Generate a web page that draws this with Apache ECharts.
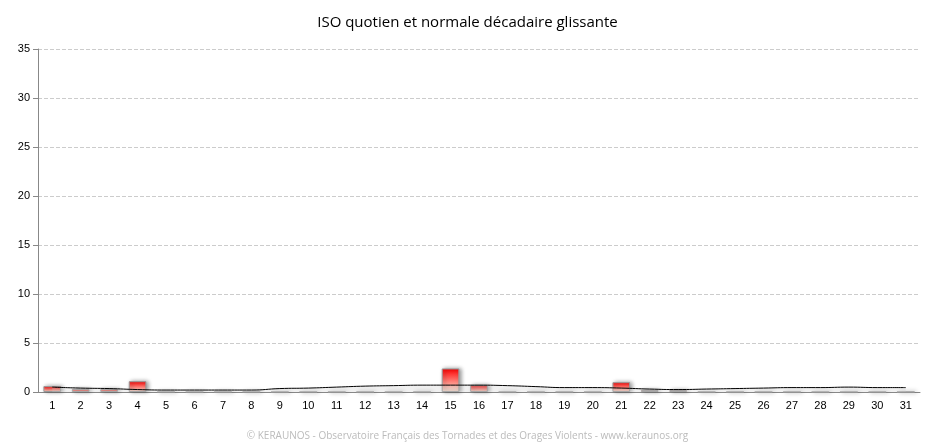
<!DOCTYPE html><html><head><meta charset="utf-8"><script src="https://cdn.jsdelivr.net/npm/echarts@6/dist/echarts.min.js"></script></head><body style="margin:0"><div id="c" style="width:935px;height:448px"></div><script>
const days=Array.from({length:31},(_,i)=>String(i+1));
const iso=[0.6,0.3,0.3,1.1,0,0,0,0,0,0,0,0,0,0,2.4,0.7,0,0,0,0,1.0,0.2,0.2,0,0,0,0,0,0,0,0];
const normale=[0.5,0.4,0.35,0.25,0.2,0.2,0.2,0.2,0.35,0.4,0.5,0.6,0.65,0.7,0.7,0.7,0.65,0.55,0.45,0.45,0.4,0.3,0.25,0.3,0.35,0.4,0.45,0.45,0.5,0.45,0.45];
const c=echarts.init(document.getElementById('c'));
c.setOption({animation:false,
title:{text:'ISO quotien et normale décadaire glissante',left:'center',top:10,textStyle:{fontFamily:'Open Sans',fontWeight:'normal',fontSize:15,color:'#000'}},
graphic:[{type:'text',left:'center',top:431,style:{text:'© KERAUNOS - Observatoire Français des Tornades et des Orages Violents - www.keraunos.org',fill:'#bbb',font:'10px Open Sans'}}],
grid:{left:38,right:15,top:49,bottom:56},
xAxis:{type:'category',data:days,axisLine:{lineStyle:{color:'#888'}},axisTick:{lineStyle:{color:'#888'}},axisLabel:{color:'#000',fontSize:11}},
yAxis:{min:0,max:35,interval:5,axisLine:{show:true,lineStyle:{color:'#888'}},axisTick:{show:true},axisLabel:{color:'#000',fontSize:11},splitLine:{lineStyle:{type:'dashed',color:'#ccc'}}},
series:[{type:'bar',data:iso,barWidth:'62%',itemStyle:{borderColor:'#999',borderWidth:1,shadowColor:'rgba(0,0,0,0.4)',shadowBlur:4,shadowOffsetX:2,color:new echarts.graphic.LinearGradient(0,0,0,1,[{offset:0,color:'#f00'},{offset:1,color:'#fde8d8'}])}},
{type:'line',data:normale,smooth:true,symbol:'none',lineStyle:{color:'#000',width:1},areaStyle:{color:'rgba(200,200,200,0.4)'}}]});
</script></body></html>
